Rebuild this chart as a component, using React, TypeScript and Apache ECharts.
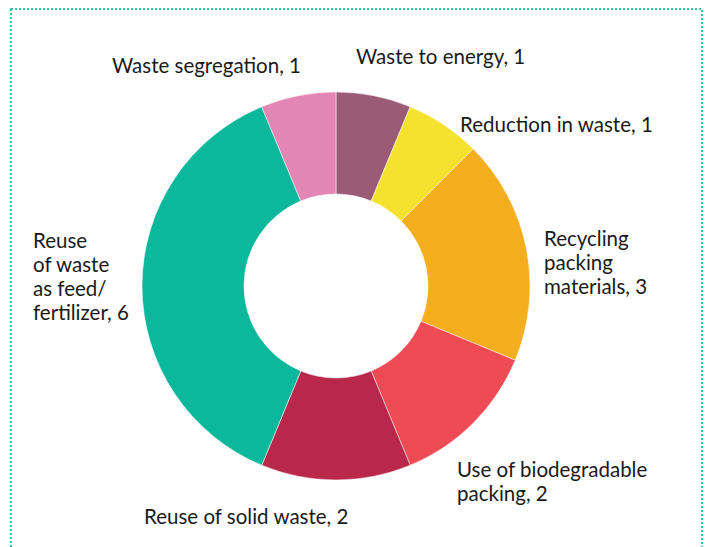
import React, { useEffect, useRef } from "react";
import * as echarts from "echarts";

const categories = [
  "Waste to energy",
  "Reduction in waste",
  "Recycling packing materials",
  "Use of biodegradable packing",
  "Reuse of solid waste",
  "Reuse of waste as feed/ fertilizer",
  "Waste segregation",
];
const labelTexts = [
  "Waste to energy",
  "Reduction in waste",
  "Recycling\npacking\nmaterials",
  "Use of biodegradable\npacking",
  "Reuse of solid waste",
  "Reuse\nof waste\nas feed/\nfertilizer",
  "Waste segregation",
];
const values = [1, 1, 3, 2, 2, 6, 1];
const colors = ["#9B5B77", "#F4E22E", "#F5AE1D", "#EF4B55", "#B9284B", "#0BB89C", "#E486B5"];

// label anchor (left x, vertical middle y) for each slice
const labelPos: [number, number][] = [
  [356, 56],
  [460, 124],
  [544, 262],
  [457, 481],
  [144, 516],
  [33, 276],
  [112, 65],
];

export default function App() {
  const ref = useRef<HTMLDivElement>(null);
  useEffect(() => {
    if (!ref.current) return;
    const chart = echarts.init(ref.current, null, { renderer: "svg" });
    chart.setOption({
      animation: false,
      backgroundColor: "#ffffff",
      graphic: [
        {
          type: "rect",
          shape: { x: 11, y: 9, width: 691, height: 600 },
          style: { fill: "none", stroke: "#2EC4A6", lineWidth: 2, lineDash: [2, 2] },
          silent: true,
        },
      ],
      series: [
        {
          type: "pie",
          center: [336, 286],
          radius: [92, 194],
          startAngle: 90,
          clockwise: true,
          avoidLabelOverlap: false,
          itemStyle: { borderColor: "#ffffff", borderWidth: 0.5 },
          label: {
            show: true,
            position: "outside",
            fontFamily: "Lato",
            fontSize: 20.5,
            lineHeight: 24,
            color: "#1a1a1a",
            formatter: (p: any) => `${labelTexts[p.dataIndex]}, ${p.value}`,
          },
          labelLine: { show: false },
          labelLayout: (p: any) => ({
            x: labelPos[p.dataIndex][0],
            y: labelPos[p.dataIndex][1],
            align: "left",
            verticalAlign: "middle",
          }),
          data: categories.map((c, i) => ({
            name: c,
            value: values[i],
            itemStyle: { color: colors[i] },
          })),
        },
      ],
    });
    return () => chart.dispose();
  }, []);
  return (
    <div
      ref={ref}
      style={{ position: "fixed", left: 0, top: 0, width: 708, height: 547 }}
    />
  );
}
